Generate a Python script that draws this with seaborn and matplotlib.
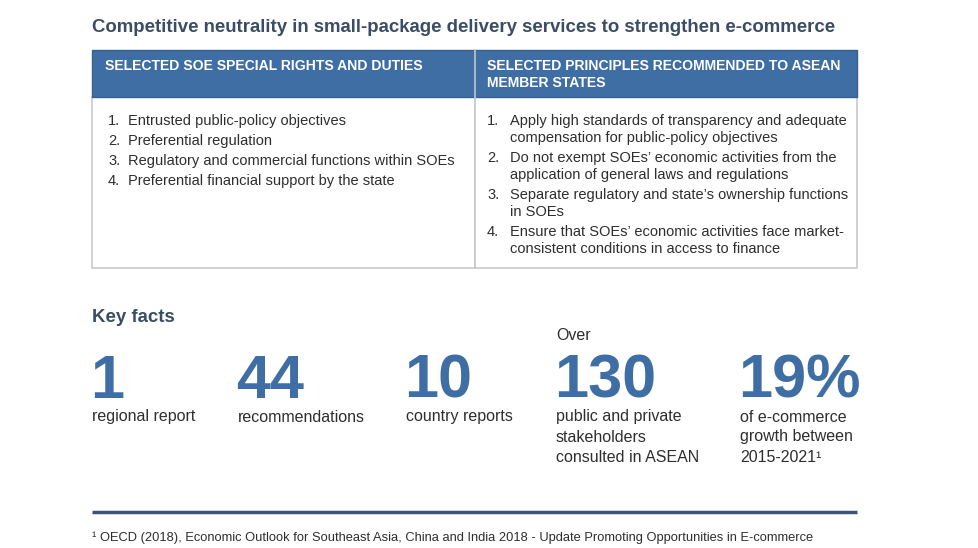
import matplotlib
matplotlib.use("Agg")
import matplotlib.pyplot as plt
import seaborn as sns
from matplotlib.patches import Rectangle

TITLE = "Competitive neutrality in small-package delivery services to strengthen e-commerce"
LEFT_HEADER = ["SELECTED SOE SPECIAL RIGHTS AND DUTIES"]
RIGHT_HEADER = ["SELECTED PRINCIPLES RECOMMENDED TO ASEAN", "MEMBER STATES"]
LEFT_ITEMS = [
    ["Entrusted public-policy objectives"],
    ["Preferential regulation"],
    ["Regulatory and commercial functions within SOEs"],
    ["Preferential financial support by the state"],
]
RIGHT_ITEMS = [
    ["Apply high standards of transparency and adequate", "compensation for public-policy objectives"],
    ["Do not exempt SOEs\u2019 economic activities from the", "application of general laws and regulations"],
    ["Separate regulatory and state\u2019s ownership functions", "in SOEs"],
    ["Ensure that SOEs\u2019 economic activities face market-", "consistent conditions in access to finance"],
]
FACT_NUMBERS = ["1", "44", "10", "130", "19%"]
FACT_PREFIX = ["", "", "", "Over", ""]
FACT_LABELS = [
    ["regional report"],
    ["recommendations"],
    ["country reports"],
    ["public and private", "stakeholders", "consulted in ASEAN"],
    ["of e-commerce", "growth between", "2015-2021\u00b9"],
]
FOOTNOTE = ("\u00b9 OECD (2018), Economic Outlook for Southeast Asia, China and India 2018 - "
            "Update Promoting Opportunities in E-commerce")

BLUE = "#3e6ea4"
DARK = "#3a4d64"
TEXT = "#2e2e2e"

sns.set_theme(style="white")
plt.rcParams["font.family"] = ["Liberation Sans", "DejaVu Sans"]

fig = plt.figure(figsize=(9.79, 5.48), dpi=100)
ax = fig.add_axes([0, 0, 1, 1])
ax.set_xlim(0, 979)
ax.set_ylim(548, 0)
ax.axis("off")

# title
ax.text(92, 28, TITLE, fontsize=13.4, fontweight="bold", color=DARK, va="center", ha="left")

# table
x0, xm, x1 = 92, 475, 857
y_head, y_body, y_end = 50, 97, 268
ax.add_patch(Rectangle((x0, y_body), x1 - x0, y_end - y_body, facecolor="white",
                       edgecolor="#c9c9c9", lw=1.2))
ax.add_patch(Rectangle((x0, y_head), x1 - x0, y_body - y_head, facecolor=BLUE,
                       edgecolor="#35618f", lw=1))
ax.plot([xm, xm], [y_head, y_end], color="#bfc5cc", lw=1.2)

for i, line in enumerate(LEFT_HEADER):
    ax.text(x0 + 13, 66 + 17 * i, line, fontsize=10.1, fontweight="bold", color="white", va="center")
for i, line in enumerate(RIGHT_HEADER):
    ax.text(xm + 12, 66 + 17 * i, line, fontsize=10.1, fontweight="bold", color="white", va="center")


def draw_list(items, xnum, xtxt, y):
    for n, lines in enumerate(items, start=1):
        ax.text(xnum, y, f"{n}.", fontsize=10.5, color=TEXT, va="center")
        for line in lines:
            ax.text(xtxt, y, line, fontsize=10.5, color=TEXT, va="center")
            y += 17
        y += 3


draw_list(LEFT_ITEMS, 108, 128, 121)
draw_list(RIGHT_ITEMS, 487, 510, 121)

# key facts
ax.text(92, 318, "Key facts", fontsize=13.4, fontweight="bold", color=DARK, va="center")
fact_x = [92, 238, 406, 556, 740]
for x, num, pre, labels in zip(fact_x, FACT_NUMBERS, FACT_PREFIX, FACT_LABELS):
    if pre:
        ax.text(x, 335, pre, fontsize=11.5, color=TEXT, va="center")
    ax.text(x - 2, 398, num, fontsize=44, fontweight="bold", color=BLUE, va="baseline")
    for j, line in enumerate(labels):
        ax.text(x, 417 + 20 * j, line, fontsize=11.5, color=TEXT, va="center")

# rule and footnote
ax.plot([92, 857], [512, 512], color="#3a5577", lw=2.5, solid_capstyle="butt")
ax.text(92, 538, FOOTNOTE, fontsize=9.3, color=TEXT, va="center")

fig.savefig("out.png", dpi=100, facecolor="white")
